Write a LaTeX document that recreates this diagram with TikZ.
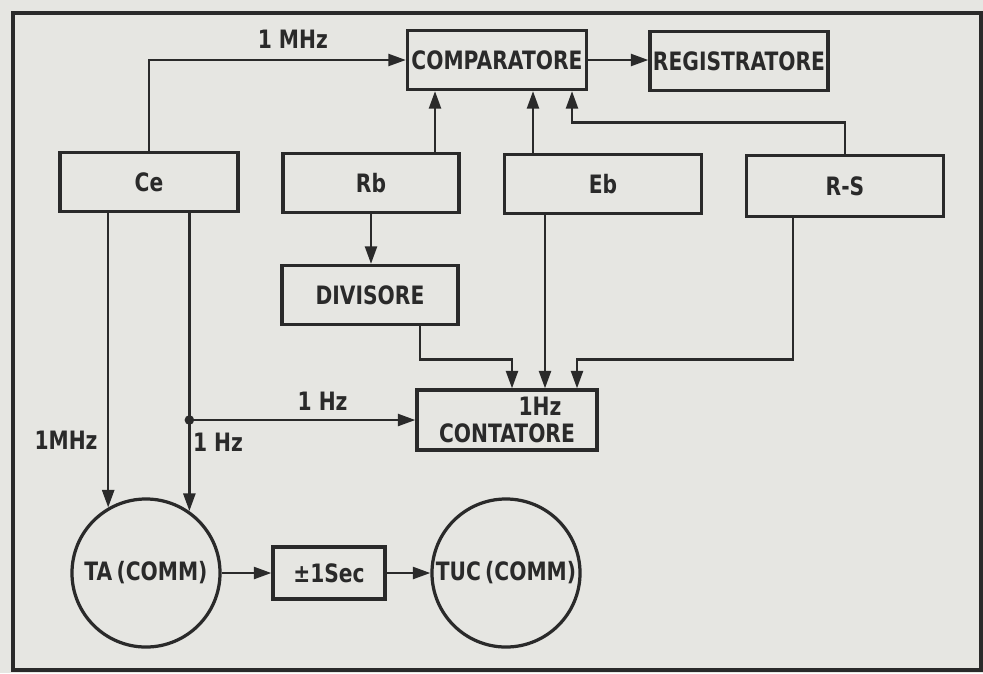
\documentclass[tikz,border=0pt]{standalone}
\usepackage{fontspec}
\setmainfont{DejaVu Sans}[FakeStretch=0.8]
\usetikzlibrary{arrows.meta, calc}
\definecolor{paper}{RGB}{230,230,226}
\definecolor{ink}{RGB}{42,42,42}
\tikzset{
  blk/.style   = {draw=ink, line width=2.3pt, inner sep=0pt, text=ink,
                  font=\bfseries\fontsize{18}{21}\selectfont,
                  minimum height=1.475cm},
  disc/.style  = {draw=ink, line width=2.3pt, circle, inner sep=0pt,
                  minimum size=3.7cm},
  flow/.style  = {draw=ink, line width=1.8pt,
                  -{Triangle[length=4.4mm, width=3mm]}},
  lbl/.style   = {text=ink, inner sep=1pt,
                  font=\bfseries\fontsize{18}{21}\selectfont},
  junction/.style = {circle, fill=ink, inner sep=0pt, minimum size=2.4mm},
}

\begin{document}
\begin{tikzpicture}[x=0.025cm, y=-0.025cm]
    \fill[paper] (0,0) rectangle (983,673);
    \draw[ink, line width=2.3pt] (13,13) rectangle (981,670);

    \node[blk, minimum width=4.475cm] (comp) at (497,60)  {COMPARATORE};
    \node[blk, minimum width=4.45cm]  (reg)  at (739,61)  {REGISTRATORE};

    \node[blk, minimum width=4.45cm]  (ce)   at (149,182) {Ce};
    \node[blk, minimum width=4.4cm]   (rb)   at (371,183) {Rb};
    \node[blk, minimum width=4.925cm] (eb)   at (603,184) {Eb};
    \node[blk, minimum width=4.925cm, minimum height=1.525cm] (rs) at (845,186) {R-S};

    \node[blk, minimum width=4.4cm]   (div)  at (370,295) {DIVISORE};
    \node[blk, minimum width=4.5cm, minimum height=1.5cm, align=center]
          (cont) at (507,420) {\hspace*{1.65cm}1Hz\\[-2pt]CONTATORE};

    \node[disc, label={[lbl]center:TA\,(COMM)}]  (ta)  at (146,573) {};
    \node[blk, minimum width=2.8cm, minimum height=1.3cm] (sec) at (329,573) {±1Sec};
    \node[disc, label={[lbl]center:TUC\,(COMM)}] (tuc) at (506,573) {};

    % into the comparatore
    \draw[flow] (ce.north) |- node[lbl, above=6pt, pos=0.78] (mhzA) {1 MHz} (comp.west);
    \coordinate (rbtap) at ($(rb.north)+(64,0)$);
    \coordinate (ebtap) at ($(eb.north)+(-70,0)$);
    \coordinate (rstap) at ($(comp.south)+(75,0)$);
    \draw[flow] (rbtap) -- (rbtap |- comp.south);
    \draw[flow] (ebtap) -- (ebtap |- comp.south);
    \draw[flow] (rs.north) -- ++(0,-31.5) -| (rstap);
    \draw[flow] (comp.east) -- (comp.east -| reg.west);

    \draw[flow] (rb.south) -- (rb.south |- div.north);

    % into the contatore
    \coordinate (divout) at ($(div.south)+(50,0)$);
    \coordinate (rsout)  at ($(rs.south)+(-52,0)$);
    \coordinate (contA)  at ($(cont.north)+(5,0)$);
    \coordinate (contB)  at ($(cont.north)+(38,0)$);
    \coordinate (contC)  at ($(cont.north)+(70,0)$);
    \draw[flow] (divout) -- ++(0,33.5) -| (contA);
    \draw[flow] (contB |- eb.south) -- (contB);
    \draw[flow] (rsout) -- ++(0,141.5) -| (contC);

    % from the Ce
    \draw[flow] (ta.120 |- ce.south) -- (ta.120);
    \draw[flow] (ta.55 |- ce.south) -- (ta.55);
    \node[junction] (tap) at (ta.55 |- cont.west) {};
    \draw[flow] (tap) -- node[lbl, above=5pt, pos=0.58] (hzB) {1 Hz} (cont.west);
    \node[lbl] (mhzB) at (66,440)  {1MHz};
    \node[lbl] (hzC)  at (218,442) {1 Hz};

    \draw[flow] (ta.east) -- (sec.west);
    \draw[flow] (sec.east) -- (tuc.west);
\end{tikzpicture}
\end{document}
